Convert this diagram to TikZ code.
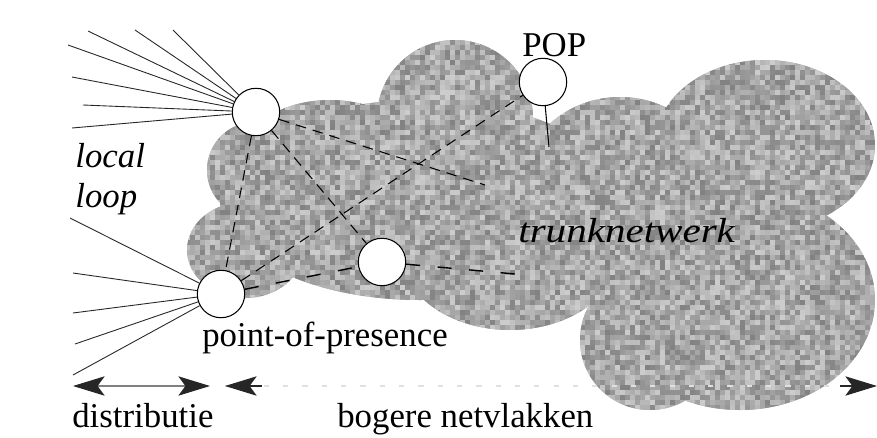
\documentclass[tikz,border=0pt]{standalone}
\usepackage{fontspec}
\usepackage{graphicx}
\setmainfont{Liberation Serif}
\usetikzlibrary{arrows.meta}
\begin{document}
\begin{tikzpicture}[x=0.02cm,y=-0.02cm,
  pop/.style={circle, draw=black, line width=0.6pt, fill=white, minimum size=27pt, inner sep=0pt},
  lbl/.style={inner sep=0pt, font=\fontsize{19.8pt}{24pt}\selectfont},
  ilbl/.style={inner sep=0pt, font=\fontsize{19.8pt}{24pt}\selectfont\itshape},
  fanline/.style={line width=0.5pt, black!85},
  link/.style={line width=0.6pt, dash pattern=on 6pt off 4pt},
  longlink/.style={line width=0.8pt, dash pattern=on 8pt off 10pt},
  span/.style={line width=0.8pt, black!50, arrows={Stealth[length=18pt,width=11pt,inset=4pt,color=black!85]-Stealth[length=18pt,width=11pt,inset=4pt,color=black!85]}},
  tipline/.style={line width=0.8pt, black!85},
  faint/.style={line width=0.8pt, black!12, dash pattern=on 3pt off 8pt}
]
\useasboundingbox (0,0) rectangle (877,437);
\fill[white] (0,0) rectangle (877,437);

% cloud (trunk network)
\begin{scope}
\clip (255,170) circle [radius=48]
      (245,250) ellipse [x radius=58, y radius=48]
      (330,160) ellipse [x radius=90, y radius=60]
      (420,200) ellipse [x radius=200, y radius=100]
      (455,118) circle [radius=78]
      (510,250) ellipse [x radius=110, y radius=80]
      (620,190) ellipse [x radius=100, y radius=93]
      (765,145) ellipse [x radius=110, y radius=85]
      (740,300) ellipse [x radius=135, y radius=110]
      (650,340) circle [radius=70];
\fill[black!35] (180,35) rectangle (877,415);
\pgfmathsetseed{7}
\foreach \i in {0,...,139}{\foreach \j in {0,...,75}{%
  \pgfmathsetmacro\g{int(20+30*rnd)}%
  \fill[black!\g] ({180+5*\i},{35+5*\j}) rectangle ++(5,5);}}
\end{scope}

% points of presence
\node[pop] (A) at (256,112) {};
\node[pop] (B) at (543,82) {};
\node[pop] (C) at (221,294) {};
\node[pop] (D) at (382,262) {};

% free ends
\coordinate (fa1) at (88,31);
\coordinate (fa2) at (135,30);
\coordinate (fa3) at (173,30);
\coordinate (fa4) at (68,45);
\coordinate (fa5) at (72,77);
\coordinate (fa6) at (83,105);
\coordinate (fa7) at (72,128);
\coordinate (fc1) at (70,218);
\coordinate (fc2) at (73,273);
\coordinate (fc3) at (73,313);
\coordinate (fc4) at (75,344);
\coordinate (fc5) at (73,375);
\coordinate (ae) at (485,185);
\coordinate (de) at (515,274);
\coordinate (bs) at (549,147);
\coordinate (dl) at (73,386);
\coordinate (dr) at (210,386);
\coordinate (hl) at (225,386);
\coordinate (hl2) at (262,386);
\coordinate (hr2) at (840,386);
\coordinate (hr) at (877,386);

% local loop fans
\foreach \p in {fa1,fa2,fa3,fa4,fa5,fa6,fa7} \draw[fanline] (\p) -- (A);
\foreach \p in {fc1,fc2,fc3,fc4,fc5} \draw[fanline] (\p) -- (C);

% trunk links
\draw[link] (A) -- (C);
\draw[link] (A) -- (D);
\draw[link] (C) -- (B);
\draw[link] (A) -- (ae);
\draw[longlink] (C) -- (D);
\draw[longlink] (D) -- (de);
\draw[line width=0.6pt] (B) -- (bs);

% spans
\draw[span] (dl) -- (dr);
\draw[faint] (hl) -- (hr);
\draw[tipline, {Stealth[length=18pt,width=11pt,inset=4pt]}-] (hl) -- (hl2);
\draw[tipline, -{Stealth[length=18pt,width=11pt,inset=4pt]}] (hr2) -- (hr);

% labels
\node[ilbl, anchor=base west] (t1) at (75,167) {local};
\node[ilbl, anchor=base west] (t2) at (75,207) {loop};
\node[lbl, anchor=base west] (t3) at (522,56) {POP};
\node[ilbl, anchor=base west] (t4) at (518,242) {\scalebox{1.18}[1]{trunknetwerk}};
\node[lbl, anchor=base west] (t5) at (202,346) {point-of-presence};
\node[lbl, anchor=base west] (t6) at (72,427) {distributie};
\node[lbl, anchor=base west] (t7) at (337,427) {bogere netvlakken};
\end{tikzpicture}
\end{document}
